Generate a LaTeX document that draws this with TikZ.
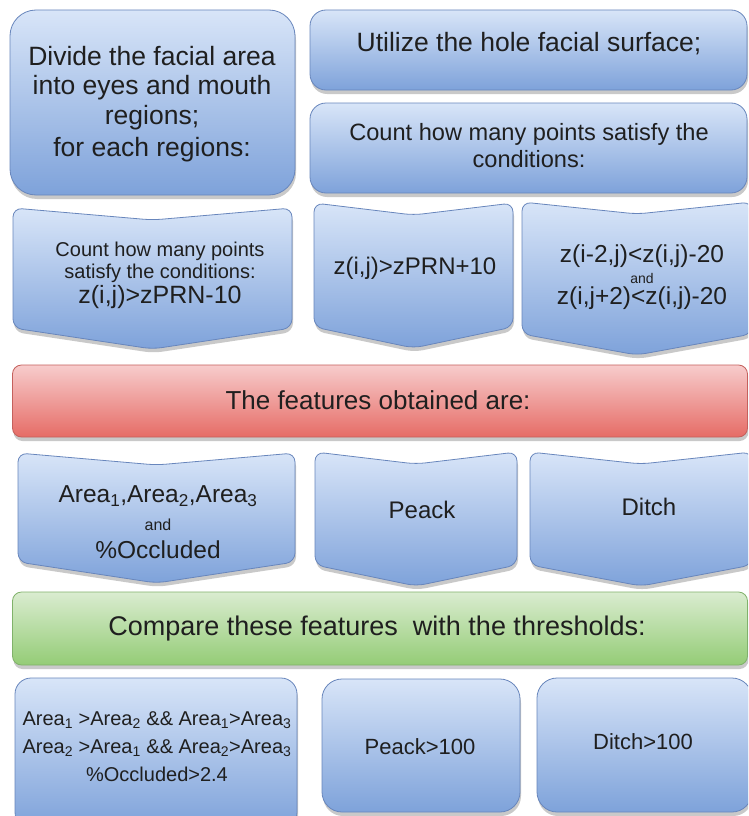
\documentclass[tikz,border=0pt]{standalone}
\usepackage{fontspec}
\setmainfont{Liberation Sans}
\usetikzlibrary{shadows}
\definecolor{btop}{RGB}{216,229,248}
\definecolor{bbot}{RGB}{126,162,218}
\definecolor{bline}{RGB}{104,134,188}
\definecolor{rtop}{RGB}{247,204,204}
\definecolor{rbot}{RGB}{230,108,102}
\definecolor{rline}{RGB}{196,96,92}
\definecolor{gtop}{RGB}{218,236,208}
\definecolor{gbot}{RGB}{148,204,118}
\definecolor{gline}{RGB}{128,178,106}
\tikzset{
  shad/.style={drop shadow={shadow xshift=1pt,shadow yshift=-4pt,opacity=0.28,fill=black!75}},
  bshape/.style={shad,top color=btop,bottom color=bbot,draw=bline,line width=0.8pt,rounded corners=9pt},
  bbox/.style={shad,top color=btop,bottom color=bbot,draw=bline,line width=0.8pt,
    rounded corners=16pt,inner sep=0pt,align=center},
  rbar/.style={shad,top color=rtop,bottom color=rbot,draw=rline,line width=0.8pt,
    rounded corners=9pt,inner sep=0pt},
  gbar/.style={shad,top color=gtop,bottom color=gbot,draw=gline,line width=0.8pt,
    rounded corners=9pt,inner sep=0pt},
  txt/.style={align=center,inner sep=0pt,text=black!88},
}
% chevron: x1, x2, top, bottom
\newcommand{\chevshape}[4]{%
  \path[bshape] (#1,#3) -- ({(#1+#2)/2},#3+12) -- (#2,#3) -- (#2,#4)
    -- ({(#1+#2)/2},#4+21) -- (#1,#4) -- cycle;}
\newcommand{\fs}[2]{\fontsize{#1}{#2}\selectfont}
\newcommand{\sbs}[1]{\textsubscript{#1}}
\begin{document}
\begin{tikzpicture}[x=1pt,y=-1pt]
\useasboundingbox (0,0) rectangle (748,816);
\clip (0,0) rectangle (748,816);
\fill[white] (0,0) rectangle (748,816);

% top row
\node[bbox,rounded corners=26pt,minimum width=285pt,minimum height=185pt] (divide) at (152.5,102.5) {};
\node[txt,font=\fs{26.5}{29.5}] (dividet) at (152,104) {Divide the facial area\\into eyes and mouth\\regions;\\[3pt]for each regions:};
\node[bbox,minimum width=437pt,minimum height=80pt] (hole) at (528.5,50) {};
\node[txt,font=\fs{26.5}{30}] (holet) at (529,44) {Utilize the hole facial surface;};
\node[bbox,minimum width=437pt,minimum height=90pt] (count) at (528.5,148) {};
\node[txt,font=\fs{23.6}{27}] (countt) at (529,146) {Count how many points satisfy the\\conditions:};

% condition chevrons
\chevshape{13}{292}{208}{328}
\chevshape{314}{513}{203}{327}
\chevshape{522}{752}{202}{334}
\node[txt,font=\fs{20}{22.5}] (cnd1) at (160,275) {Count how many points\\satisfy the conditions:\\[2pt]{\fs{25}{27}z(i,j)>zPRN-10}};
\node[txt,font=\fs{24}{26}] (cnd2) at (415,268) {z(i,j)>zPRN+10};
\node[txt,font=\fs{24.5}{21}] (cnd3) at (642,277) {z(i-2,j)<z(i,j)-20\\{\fs{14}{19}and}\\z(i,j+2)<z(i,j)-20};

% features
\node[rbar,minimum width=735pt,minimum height=72pt] (feat) at (380,401) {};
\node[txt,font=\fs{26}{30}] (featt) at (378,400) {The features obtained are:};
\chevshape{18}{295}{453}{562}
\chevshape{315}{517}{452}{565}
\chevshape{530}{752}{452}{565}
\node[txt,font=\fs{24.5}{28}] (ftr1) at (158,522) {Area\sbs{1},Area\sbs{2},Area\sbs{3}\\{\fs{16}{20}and}\\\%Occluded};
\node[txt,font=\fs{24}{26}] (ftr2) at (422,510) {Peack};
\node[txt,font=\fs{24}{26}] (ftr3) at (649,507) {Ditch};

% thresholds
\node[gbar,minimum width=735pt,minimum height=73pt] (comp) at (380,628.5) {};
\node[txt,font=\fs{27}{30}] (compt) at (377,629) {Compare these features \ with the thresholds:};
\node[bbox,minimum width=282pt,minimum height=150pt] (thr1) at (156,753) {};
\node[txt,font=\fs{20}{28}] (thr1t) at (157,747) {Area\sbs{1} >Area\sbs{2} \&\& Area\sbs{1}>Area\sbs{3}\\Area\sbs{2} >Area\sbs{1} \&\& Area\sbs{2}>Area\sbs{3}\\\%Occluded>2.4};
\node[bbox,rounded corners=20pt,minimum width=198pt,minimum height=133pt] (thr2) at (421,745.5) {};
\node[txt,font=\fs{22}{26}] (thr2t) at (420,747) {Peack>100};
\node[bbox,rounded corners=20pt,minimum width=215pt,minimum height=134pt] (thr3) at (644.5,745) {};
\node[txt,font=\fs{22}{26}] (thr3t) at (643,742) {Ditch>100};
\end{tikzpicture}
\end{document}
